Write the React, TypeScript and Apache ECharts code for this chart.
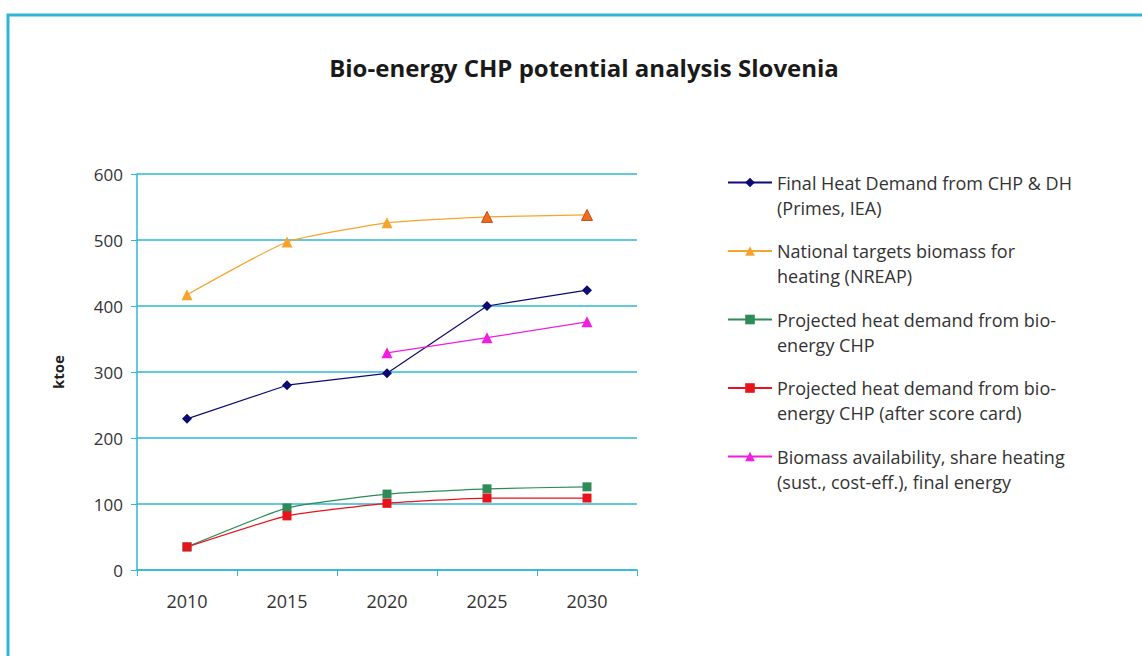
import React, { useEffect, useRef } from "react";
import * as echarts from "echarts";

const years = ["2010", "2015", "2020", "2025", "2030"];
const finalHeatDemand = [229, 280, 298, 400, 424];
const nationalTargets = [417, 497, 526, 535, 538];
const projectedBio = [35, 94, 115, 123, 126];
const projectedAfterScore = [35, 82, 101, 109, 109];
const biomassAvailability = [null, null, 329, 352, 376];
const yTicks = [0, 100, 200, 300, 400, 500, 600];

const names = [
  "Final Heat Demand from CHP & DH\n(Primes, IEA)",
  "National targets biomass for\nheating (NREAP)",
  "Projected heat demand from bio-\nenergy CHP",
  "Projected heat demand from bio-\nenergy CHP (after score card)",
  "Biomass availability, share heating\n(sust., cost-eff.), final energy",
];

const CYAN = "#2DB7D6";
const FONT = "'Open Sans', 'Noto Sans', sans-serif";

export default function App() {
  const ref = useRef<HTMLDivElement>(null);
  useEffect(() => {
    if (!ref.current) return;
    const chart = echarts.init(ref.current, undefined, { renderer: "svg" });
    const orangeData = nationalTargets.map((v, i) =>
      i >= 3
        ? { value: v, itemStyle: { color: "#F26B1D", borderColor: "#C0501A", borderWidth: 1 } }
        : v
    );
    chart.setOption({
      animation: false,
      backgroundColor: "#ffffff",
      textStyle: { fontFamily: FONT },
      title: {
        text: "Bio-energy CHP potential analysis Slovenia",
        left: 579,
        top: 50,
        textAlign: "center",
        textStyle: { fontSize: 24, fontWeight: "bold", color: "#1a1a1a", fontFamily: FONT },
      },
      graphic: [
        {
          type: "rect",
          shape: { x: 8, y: 15, width: 1200, height: 700 },
          style: { fill: "none", stroke: CYAN, lineWidth: 3 },
          silent: true,
        },
      ],
      legend: {
        orient: "vertical",
        left: 727,
        top: 145,
        padding: 0,
        itemWidth: 44,
        itemHeight: 12,
        itemGap: -6.5,
        data: names,
        formatter: (name: string) => "\n" + name,
        textStyle: {
          fontSize: 18,
          lineHeight: 25,
          color: "#333",
          fontFamily: FONT,
        },
      },
      grid: { left: 137, top: 174, width: 500, height: 396, containLabel: false },
      xAxis: {
        type: "category",
        data: years,
        boundaryGap: true,
        axisLine: { lineStyle: { color: CYAN, width: 1.5 } },
        axisTick: { show: true, length: 6, lineStyle: { color: CYAN } },
        axisLabel: { color: "#333", fontSize: 18, margin: 22, fontFamily: FONT },
        splitLine: { show: false },
      },
      yAxis: {
        type: "value",
        min: 0,
        max: 600,
        interval: 100,
        name: "ktoe",
        nameLocation: "middle",
        nameGap: 72,
        nameRotate: 90,
        nameTextStyle: { fontSize: 15, fontWeight: "bold", color: "#222", fontFamily: FONT },
        axisLine: { show: true, lineStyle: { color: CYAN, width: 1.5 } },
        axisTick: { show: true, length: 6, lineStyle: { color: CYAN } },
        axisLabel: {
          color: "#333",
          fontSize: 17,
          margin: 14,
          fontFamily: FONT,
          formatter: (v: number) => (yTicks.includes(v) ? String(v) : ""),
        },
        splitLine: { show: true, lineStyle: { color: CYAN, width: 1.5 } },
      },
      series: [
        {
          name: names[0],
          type: "line",
          data: finalHeatDemand,
          symbol: "diamond",
          symbolSize: 10,
          color: "#0B0B73",
          lineStyle: { width: 1.2, color: "#0B0B73" },
          itemStyle: { color: "#0B0B73" },
        },
        {
          name: names[1],
          type: "line",
          data: orangeData,
          smooth: 0.15,
          symbol: "triangle",
          symbolSize: 11,
          color: "#F7A42C",
          lineStyle: { width: 1.2, color: "#F7A42C" },
          itemStyle: { color: "#F7A42C" },
        },
        {
          name: names[2],
          type: "line",
          data: projectedBio,
          smooth: 0.15,
          symbol: "rect",
          symbolSize: 9,
          color: "#2E8B57",
          lineStyle: { width: 1.2, color: "#2E8B57" },
          itemStyle: { color: "#2E8B57" },
        },
        {
          name: names[3],
          type: "line",
          data: projectedAfterScore,
          smooth: 0.15,
          symbol: "rect",
          symbolSize: 9,
          color: "#E8141B",
          lineStyle: { width: 1.2, color: "#E8141B" },
          itemStyle: { color: "#E8141B" },
        },
        {
          name: names[4],
          type: "line",
          data: biomassAvailability,
          symbol: "triangle",
          symbolSize: 11,
          color: "#F21DE0",
          lineStyle: { width: 1.2, color: "#F21DE0" },
          itemStyle: { color: "#F21DE0" },
        },
      ],
    });
    return () => chart.dispose();
  }, []);
  return (
    <div
      ref={ref}
      style={{ position: "fixed", left: 0, top: 0, width: 1142, height: 656 }}
    />
  );
}
